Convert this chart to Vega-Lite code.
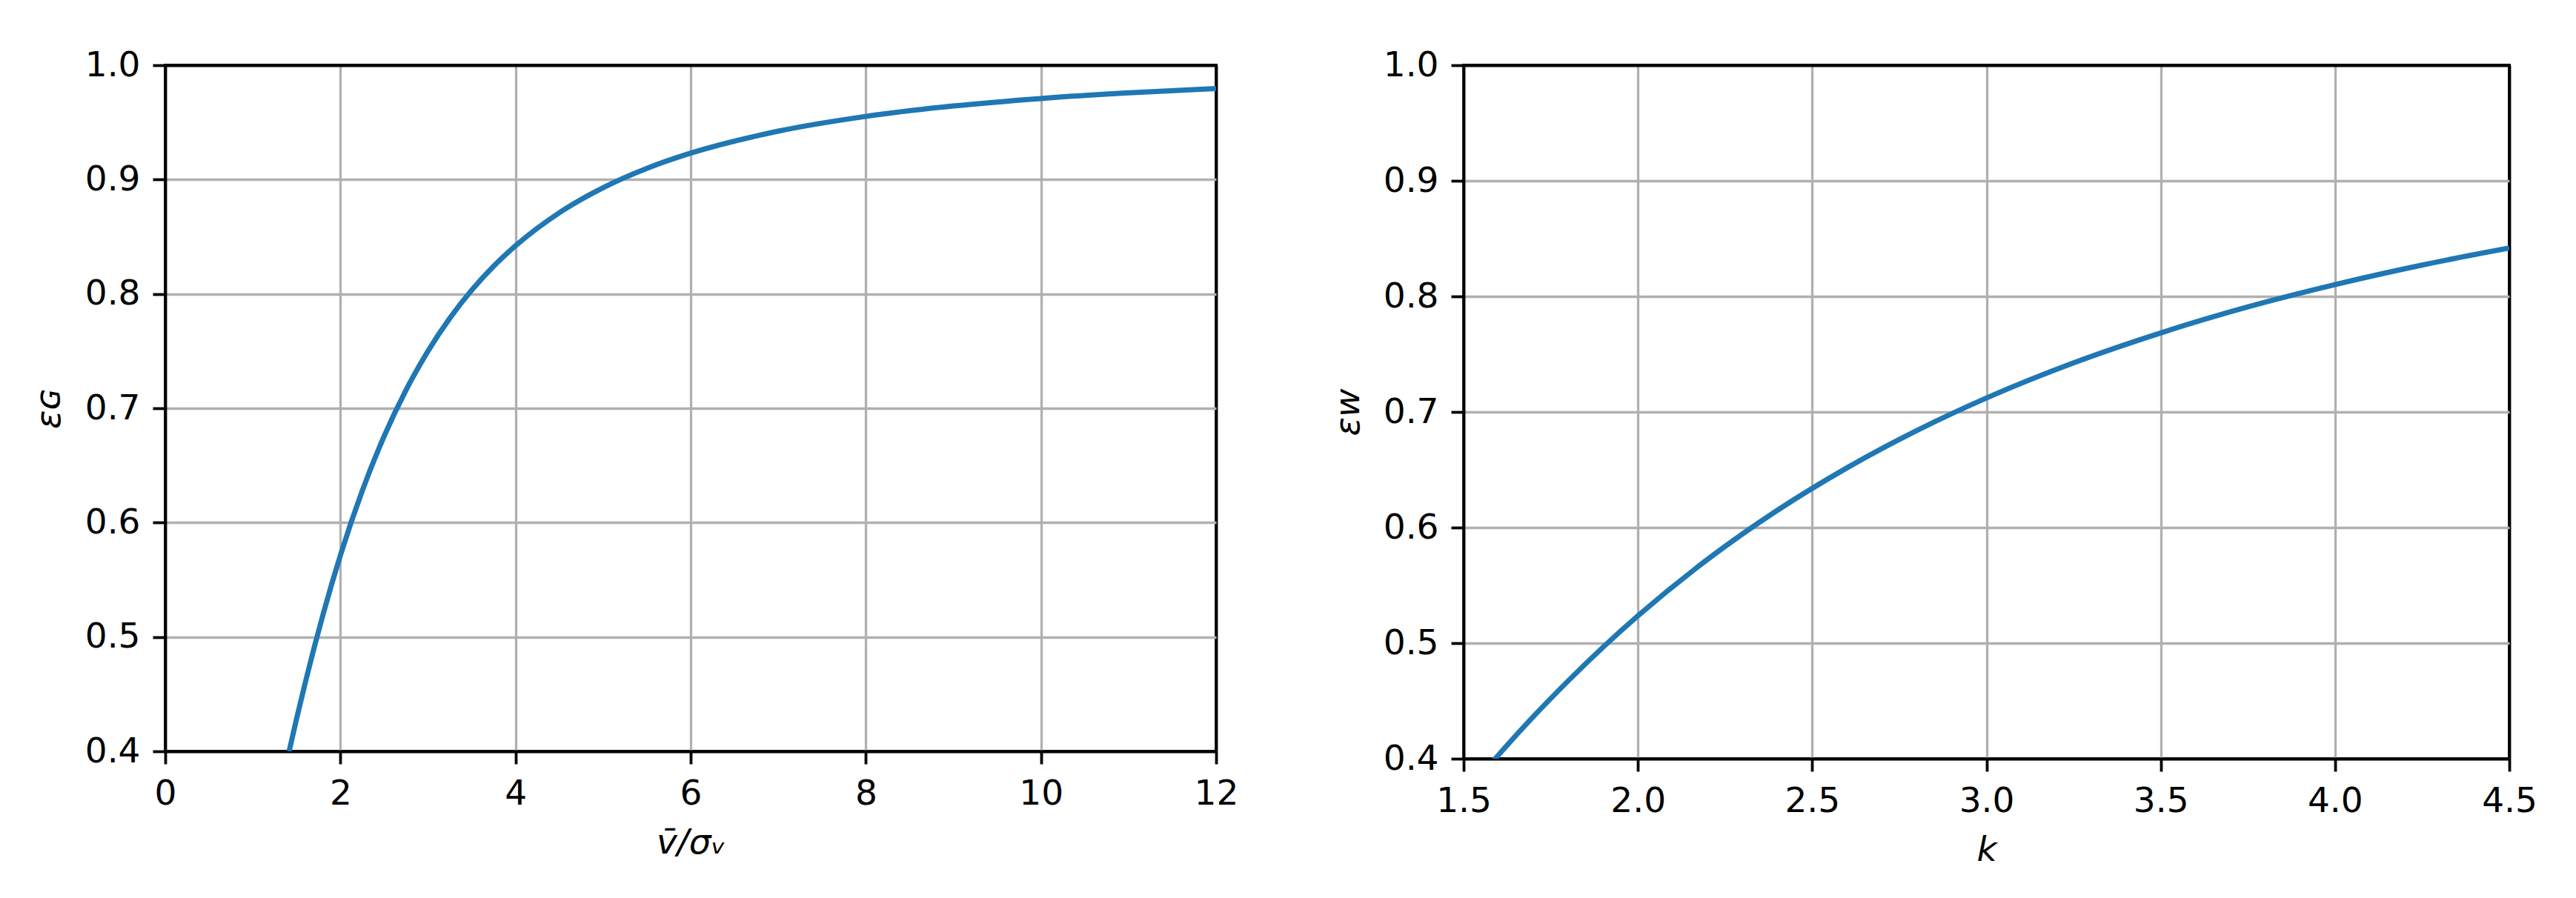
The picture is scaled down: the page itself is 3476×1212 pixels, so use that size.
{
  "$schema": "https://vega.github.io/schema/vega-lite/v6.json",
  "background": "white",
  "padding": {"left": 40, "top": 62, "right": 0, "bottom": 0},
  "datasets": {
    "gauss": [
      {"x": 1.4142, "y": 0.4000}, {"x": 1.5, "y": 0.4286}, {"x": 1.6, "y": 0.4604}, {"x": 1.7, "y": 0.4907},
      {"x": 1.8, "y": 0.5192}, {"x": 1.9, "y": 0.5461}, {"x": 2.0, "y": 0.5714}, {"x": 2.25, "y": 0.6279},
      {"x": 2.5, "y": 0.6757}, {"x": 2.75, "y": 0.7160}, {"x": 3.0, "y": 0.7500}, {"x": 3.25, "y": 0.7788},
      {"x": 3.5, "y": 0.8033}, {"x": 3.75, "y": 0.8242}, {"x": 4.0, "y": 0.8421}, {"x": 4.5, "y": 0.8710},
      {"x": 5.0, "y": 0.8929}, {"x": 5.5, "y": 0.9098}, {"x": 6.0, "y": 0.9231}, {"x": 7.0, "y": 0.9423},
      {"x": 8.0, "y": 0.9552}, {"x": 9.0, "y": 0.9643}, {"x": 10.0, "y": 0.9709}, {"x": 11.0, "y": 0.9758},
      {"x": 12.0, "y": 0.9796}
    ],
    "weibull": [
      {"k": 1.5, "e": 0.3679}, {"k": 1.55, "e": 0.3858}, {"k": 1.6, "e": 0.4032}, {"k": 1.7, "e": 0.4364},
      {"k": 1.8, "e": 0.4674}, {"k": 1.9, "e": 0.4965}, {"k": 2.0, "e": 0.5236}, {"k": 2.2, "e": 0.5725},
      {"k": 2.4, "e": 0.6149}, {"k": 2.6, "e": 0.6517}, {"k": 2.8, "e": 0.6839}, {"k": 3.0, "e": 0.7121},
      {"k": 3.25, "e": 0.7425}, {"k": 3.5, "e": 0.7684}, {"k": 3.75, "e": 0.7909}, {"k": 4.0, "e": 0.8102},
      {"k": 4.25, "e": 0.8271}, {"k": 4.5, "e": 0.8418}
    ]
  },
  "spacing": 334,
  "bounds": "flush",
  "hconcat": [
    {
      "width": 1418,
      "height": 926,
      "data": {"name": "gauss"},
      "mark": {"type": "line", "color": "#1f77b4", "strokeWidth": 7, "clip": true, "interpolate": "monotone"},
      "encoding": {
        "x": {
          "field": "x", "type": "quantitative",
          "scale": {"domain": [0, 12], "nice": false, "zero": false},
          "axis": {"values": [0, 2, 4, 6, 8, 10, 12], "format": "d", "title": "v̄/σᵥ",
                   "titleX": 709, "titleY": 137, "titleBaseline": "alphabetic",
                   "gridColor": {"condition": {"test": "datum.value >= 12", "value": "black"}, "value": "#b0b0b0"},
                   "gridWidth": {"condition": {"test": "datum.value >= 12", "value": 3.8}, "value": 3.3}}
        },
        "y": {
          "field": "y", "type": "quantitative",
          "scale": {"domain": [0.4, 1.0], "nice": false, "zero": false},
          "axis": {"values": [0.4, 0.5, 0.6, 0.7, 0.8, 0.9, 1.0], "format": ".1f", "title": "εɢ",
                   "titleX": -143, "titleY": 463, "titleBaseline": "alphabetic", "titleAngle": -90,
                   "gridColor": {"condition": {"test": "datum.value >= 0.99", "value": "black"}, "value": "#b0b0b0"},
                   "gridWidth": {"condition": {"test": "datum.value >= 0.99", "value": 3.8}, "value": 3.3}}
        }
      }
    },
    {
      "width": 1411,
      "height": 936,
      "data": {"name": "weibull"},
      "mark": {"type": "line", "color": "#1f77b4", "strokeWidth": 7, "clip": true, "interpolate": "monotone"},
      "encoding": {
        "x": {
          "field": "k", "type": "quantitative",
          "scale": {"domain": [1.5, 4.5], "nice": false, "zero": false},
          "axis": {"values": [1.5, 2.0, 2.5, 3.0, 3.5, 4.0, 4.5], "format": ".1f", "title": "k",
                   "titleX": 705.5, "titleY": 137, "titleBaseline": "alphabetic",
                   "gridColor": {"condition": {"test": "datum.value >= 4.49", "value": "black"}, "value": "#b0b0b0"},
                   "gridWidth": {"condition": {"test": "datum.value >= 4.49", "value": 3.8}, "value": 3.3}}
        },
        "y": {
          "field": "e", "type": "quantitative",
          "scale": {"domain": [0.4, 1.0], "nice": false, "zero": false},
          "axis": {"values": [0.4, 0.5, 0.6, 0.7, 0.8, 0.9, 1.0], "format": ".1f", "title": "εᴡ",
                   "titleX": -142, "titleY": 468, "titleBaseline": "alphabetic", "titleAngle": -90,
                   "gridColor": {"condition": {"test": "datum.value >= 0.99", "value": "black"}, "value": "#b0b0b0"},
                   "gridWidth": {"condition": {"test": "datum.value >= 0.99", "value": 3.8}, "value": 3.3}}
        }
      }
    }
  ],
  "config": {
    "font": "DejaVu Sans",
    "view": {"stroke": "black", "strokeWidth": 3.8},
    "axis": {
      "labelFont": "DejaVu Sans", "labelFontSize": 47, "labelColor": "black",
      "labelPadding": 17, "labelFlush": false, "labelOverlap": false,
      "tickColor": "black", "tickWidth": 3.8, "tickSize": 17,
      "domainColor": "black", "domainWidth": 3.8,
      "grid": true,
      "titleFont": "DejaVu Sans", "titleFontSize": 47, "titleFontWeight": "normal",
      "titleFontStyle": "italic", "titleColor": "black", "titlePadding": 0
    }
  }
}
